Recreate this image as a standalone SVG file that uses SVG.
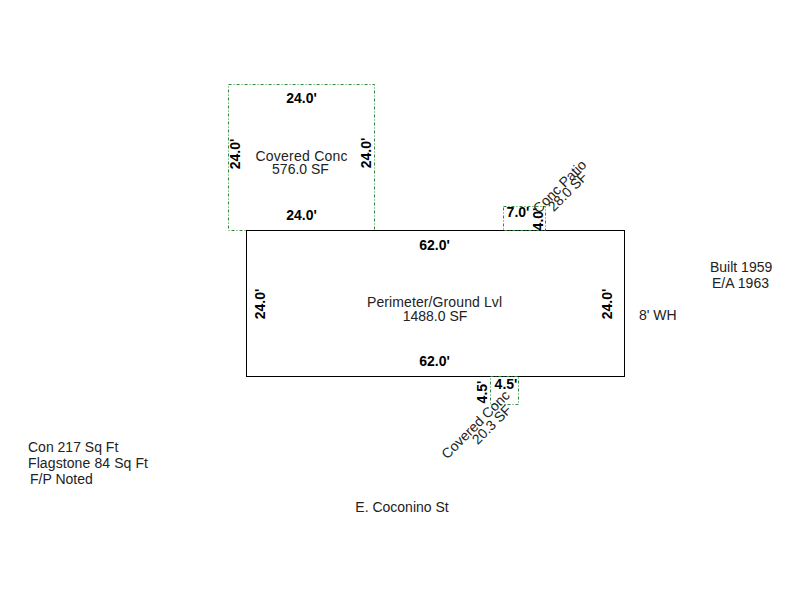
<svg xmlns="http://www.w3.org/2000/svg" width="800" height="600" viewBox="0 0 800 600">
<style>
text{font-family:"Liberation Sans",Arial,sans-serif;font-size:14px;fill:#222;text-anchor:middle}
.d{font-weight:bold;fill:#000}
.s{text-anchor:start}
.g{fill:none;stroke:#2e8b3e;stroke-width:1;stroke-dasharray:3 2 1 2}
.m{fill:none;stroke:#000;stroke-width:1}
</style>
<rect width="800" height="600" fill="#fff"/>
<g id="covered-conc-top">
<rect class="g" x="228.500" y="84.500" width="146" height="146"/>
<text class="d" x="301.500" y="103">24.0'</text>
<text class="d" x="301.500" y="220">24.0'</text>
<text class="d" transform="translate(240,154) rotate(-90)">24.0'</text>
<text class="d" transform="translate(371,153) rotate(-90)">24.0'</text>
<text x="301.500" y="161" textLength="92">Covered Conc</text>
<text x="300.500" y="174">576.0 SF</text>
</g>
<g id="perimeter">
<rect class="m" x="246.500" y="230.500" width="378" height="146"/>
<text class="d" x="434.500" y="250">62.0'</text>
<text class="d" x="434.500" y="366">62.0'</text>
<text class="d" transform="translate(265,304) rotate(-90)">24.0'</text>
<text class="d" transform="translate(612,304) rotate(-90)">24.0'</text>
<text x="434.500" y="307" textLength="135">Perimeter/Ground Lvl</text>
<text x="435" y="321">1488.0 SF</text>
</g>
<g id="conc-patio">
<rect class="g" x="503.500" y="206.500" width="42" height="24"/>
<text class="d" x="518" y="217">7.0'</text>
<text class="d" transform="translate(543,219) rotate(-90)">4.0'</text>
<text transform="translate(563,190) rotate(-45)">Conc Patio</text>
<text transform="translate(571,195) rotate(-45)">28.0 SF</text>
</g>
<g id="covered-conc-bottom">
<rect class="g" x="490.500" y="376.500" width="28" height="28"/>
<text class="d" x="506" y="389">4.5'</text>
<text class="d" transform="translate(487,392) rotate(-90)">4.5'</text>
<text transform="translate(479,428) rotate(-45)">Covered Conc</text>
<text transform="translate(495,428) rotate(-45)">20.3 SF</text>
</g>
<g id="notes">
<text class="s" x="710" y="272">Built 1959</text>
<text class="s" x="712" y="288" textLength="57">E/A 1963</text>
<text class="s" x="639" y="320">8' WH</text>
<text class="s" x="28" y="452">Con 217 Sq Ft</text>
<text class="s" x="28" y="468" textLength="120">Flagstone 84 Sq Ft</text>
<text class="s" x="30" y="484">F/P Noted</text>
<text x="402" y="512">E. Coconino St</text>
</g>
<g id="connectors"/>
</svg>
